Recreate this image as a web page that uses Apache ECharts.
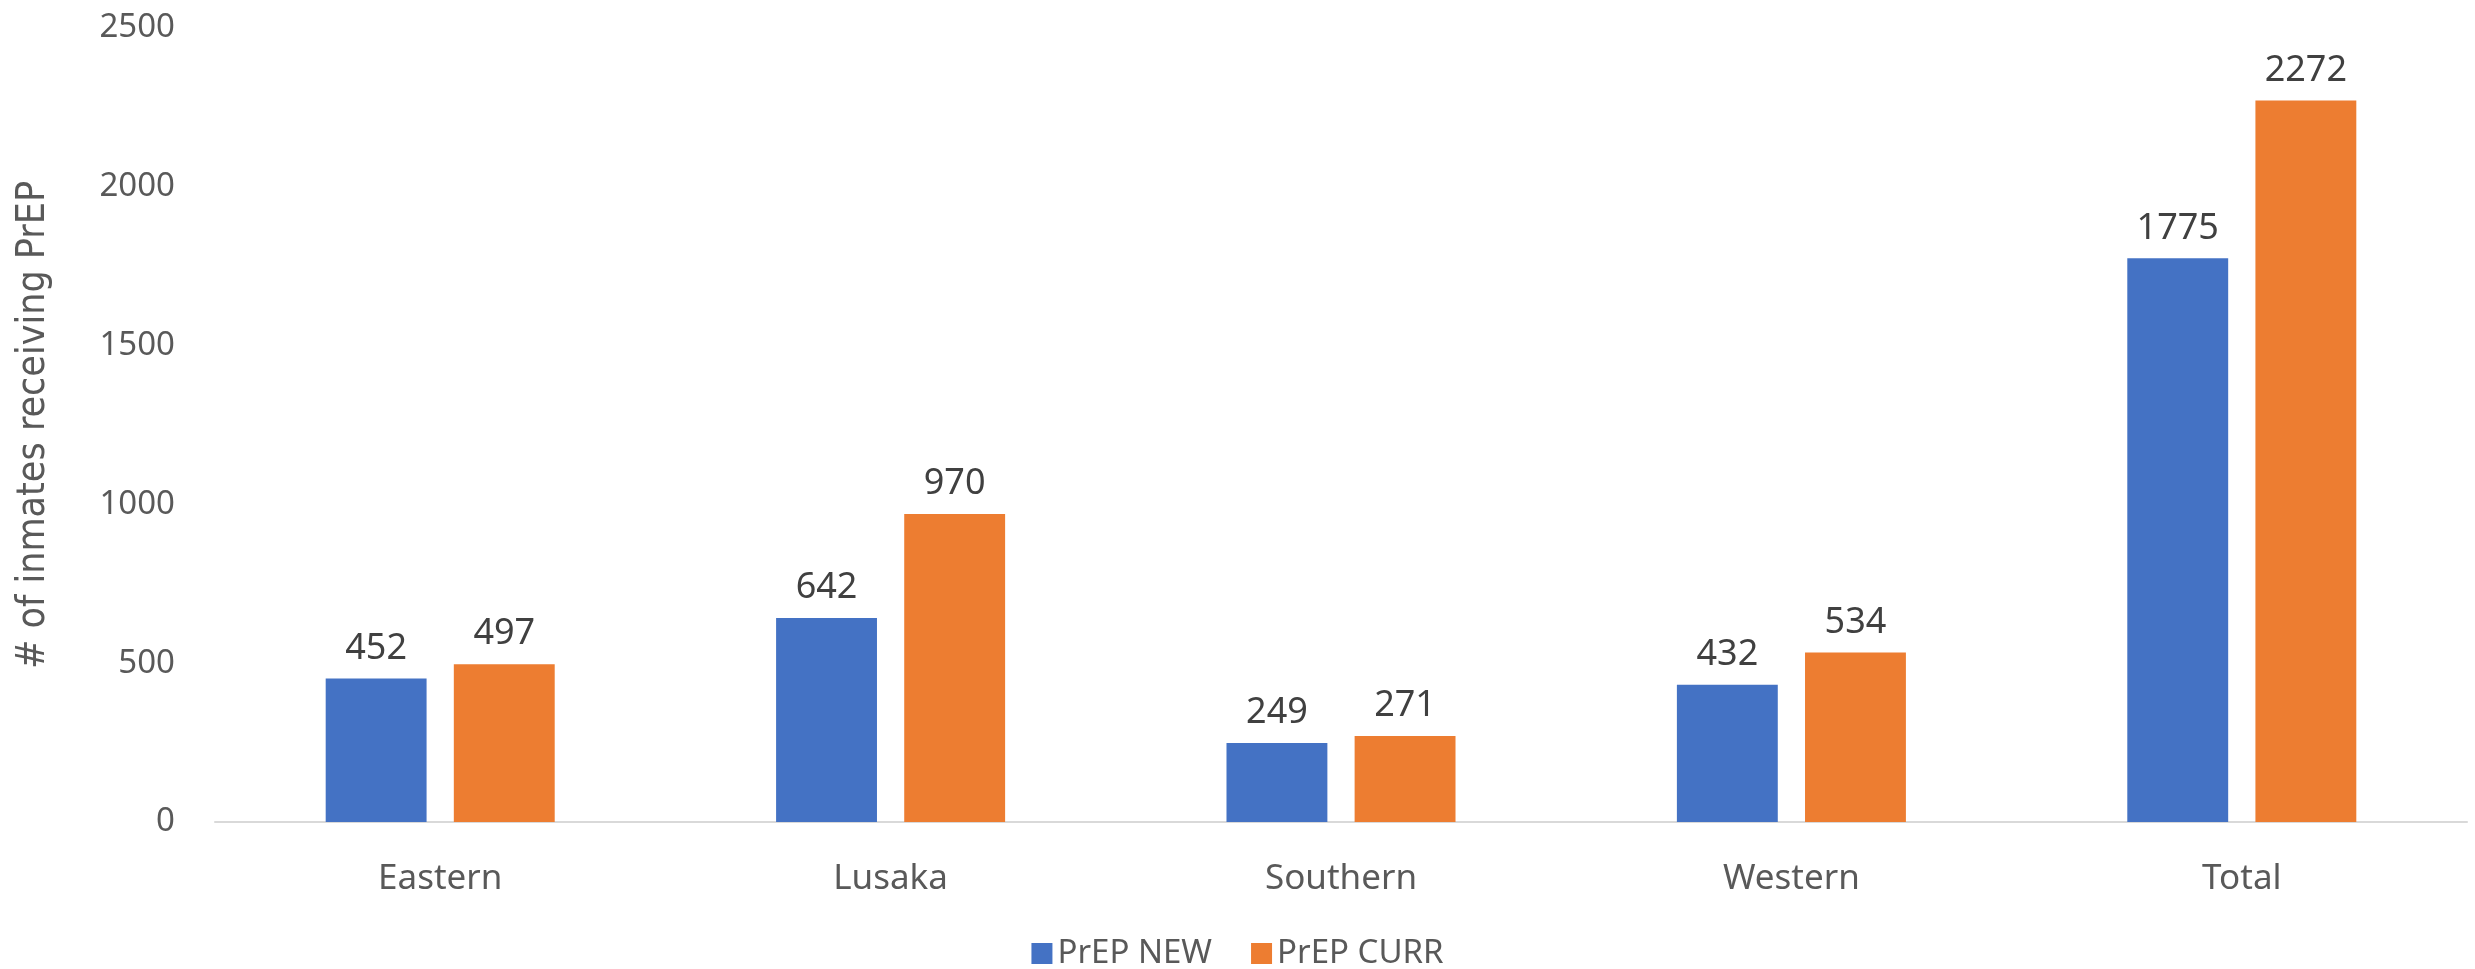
<!DOCTYPE html>
<html>
<head>
<meta charset="utf-8">
<script src="https://cdn.jsdelivr.net/npm/echarts@6/dist/echarts.min.js"></script>
<style>html,body{margin:0;padding:0;background:#fff}#c{width:2475px;height:969px}</style>
</head>
<body>
<div id="c"></div>
<script>
const categories = ['Eastern', 'Lusaka', 'Southern', 'Western', 'Total'];
const prepNew = [452, 642, 249, 432, 1775];
const prepCurr = [497, 970, 271, 534, 2272];
const seriesNames = ['PrEP NEW', 'PrEP CURR'];
const yTitle = '# of inmates receiving PrEP';

const FONT = '"Noto Sans", "Open Sans", sans-serif';
const chart = echarts.init(document.getElementById('c'));
chart.setOption({
  animation: false,
  backgroundColor: '#fff',
  grid: { left: 215, right: 8, top: 28, bottom: 147, containLabel: false, outerBoundsMode: 'none' },
  legend: {
    data: seriesNames,
    top: 932,
    left: 'center',
    itemWidth: 21,
    itemHeight: 21,
    itemGap: 39,
    icon: 'rect',
    textStyle: { fontFamily: FONT, fontSize: 33, color: '#595959' }
  },
  xAxis: {
    type: 'category',
    data: categories,
    axisLine: { lineStyle: { color: '#d9d9d9', width: 2 } },
    axisTick: { show: false },
    axisLabel: { fontFamily: FONT, fontSize: 35, color: '#595959', margin: 40 }
  },
  yAxis: {
    type: 'value',
    min: 0, max: 2500, interval: 500,
    name: yTitle,
    nameLocation: 'middle',
    nameGap: 162,
    nameRotate: 90,
    nameTextStyle: { fontFamily: '"Liberation Sans Narrow", "DejaVu Sans Condensed", "Noto Sans", sans-serif', fontSize: 39, color: '#595959' },
    axisLine: { show: false },
    axisTick: { show: false },
    splitLine: { show: false },
    axisLabel: { fontFamily: FONT, fontSize: 33, color: '#595959', margin: 40, formatter: v => String(v) }
  },
  series: [
    {
      name: seriesNames[0], type: 'bar', data: prepNew,
      barWidth: '22.4%', barGap: '27%',
      itemStyle: { color: '#4472C4' },
      label: { show: true, position: 'top', distance: 12, fontFamily: FONT, fontSize: 36, color: '#404040' }
    },
    {
      name: seriesNames[1], type: 'bar', data: prepCurr,
      barWidth: '22.4%', barGap: '27%',
      itemStyle: { color: '#ED7D31' },
      label: { show: true, position: 'top', distance: 12, fontFamily: FONT, fontSize: 36, color: '#404040' }
    }
  ]
});
</script>
</body>
</html>
